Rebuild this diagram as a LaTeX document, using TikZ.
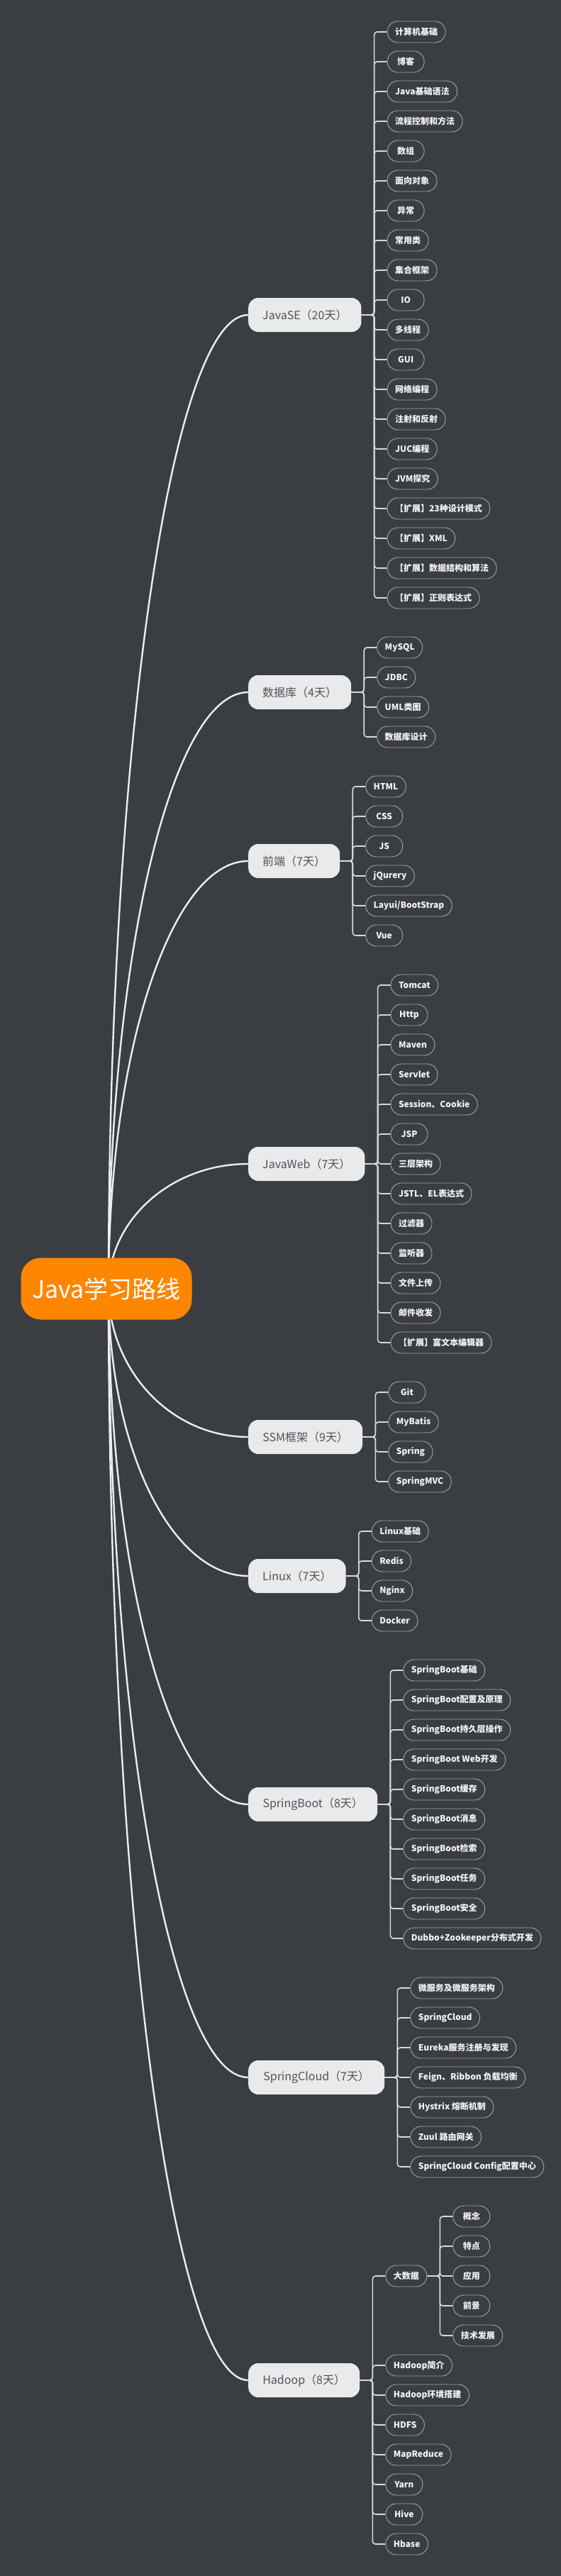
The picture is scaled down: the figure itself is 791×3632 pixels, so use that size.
\documentclass[tikz,border=0pt]{standalone}
\usepackage{fontspec}
\setmainfont{Noto Sans CJK SC}
\usetikzlibrary{calc}

\definecolor{bgcol}{HTML}{3A3D42}
\definecolor{rootfill}{HTML}{FF8600}
\definecolor{topicfill}{HTML}{E9EAEC}
\definecolor{topictext}{HTML}{505256}
\definecolor{leafline}{HTML}{A4A5A8}
\definecolor{leaftext}{HTML}{F4F4F4}
\definecolor{limbcol}{HTML}{EDEDED}
\definecolor{twigcol}{HTML}{D8D9DB}

\pgfdeclarelayer{back}
\pgfdeclarelayer{edges}
\pgfsetlayers{back,edges,main}

\begin{document}
\begin{tikzpicture}[x=1pt,y=-1pt,
  root/.style={fill=rootfill, text=white, rounded corners=28pt, minimum width=241pt,
    minimum height=87pt, font=\fontsize{34}{40}\selectfont},
  topic/.style={fill=topicfill, text=topictext, rounded corners=14pt, minimum height=48pt,
    inner xsep=20pt, anchor=west, font=\fontsize{16}{19}\selectfont},
  leaf/.style={draw=leafline, line width=0.9pt, text=leaftext, rounded corners=15pt,
    minimum height=30pt, minimum width=52pt, inner xsep=11pt, inner ysep=0pt,
    anchor=west, font=\fontsize{12}{14}\selectfont\bfseries},
  limb/.style={draw=limbcol, line width=2.4pt},
  twig/.style={draw=twigcol, line width=1.6pt, rounded corners=4pt}]

\useasboundingbox (0,0) rectangle (791,3632);
\begin{pgfonlayer}{back}
\fill[bgcol] (0,0) rectangle (791,3632);
\end{pgfonlayer}

% root and main topics
\node[root] (root) at (150,1817) {Java学习路线};
\coordinate (hub) at (153,1817);
\node[topic, minimum width=155pt] (se) at (350,444) {JavaSE（20天）};
\node[topic, minimum width=142pt] (db) at (350,976) {数据库（4天）};
\node[topic, minimum width=124pt] (fe) at (350,1214) {前端（7天）};
\node[topic, minimum width=162pt] (web) at (350,1641) {JavaWeb（7天）};
\node[topic, minimum width=161pt] (ssm) at (350,2026) {SSM框架（9天）};
\node[topic, minimum width=133pt] (lx) at (350,2222) {Linux（7天）};
\node[topic, minimum width=182pt] (sb) at (350,2544) {SpringBoot（8天）};
\node[topic, minimum width=192pt] (sc) at (350,2929) {SpringCloud（7天）};
\node[topic, minimum width=157pt] (hd) at (350,3356) {Hadoop（8天）};

% JavaSE
\coordinate (sex) at ([xshift=36pt]se.east);
\node[leaf] (se1) at (sex |- 0,45) {计算机基础};
\node[leaf] (se2) at (sex |- 0,87) {博客};
\node[leaf] (se3) at (sex |- 0,129) {Java基础语法};
\node[leaf] (se4) at (sex |- 0,171) {流程控制和方法};
\node[leaf] (se5) at (sex |- 0,213) {数组};
\node[leaf] (se6) at (sex |- 0,255) {面向对象};
\node[leaf] (se7) at (sex |- 0,297) {异常};
\node[leaf] (se8) at (sex |- 0,339) {常用类};
\node[leaf] (se9) at (sex |- 0,381) {集合框架};
\node[leaf] (se10) at (sex |- 0,423) {IO};
\node[leaf] (se11) at (sex |- 0,465) {多线程};
\node[leaf] (se12) at (sex |- 0,507) {GUI};
\node[leaf] (se13) at (sex |- 0,549) {网络编程};
\node[leaf] (se14) at (sex |- 0,591) {注射和反射};
\node[leaf] (se15) at (sex |- 0,633) {JUC编程};
\node[leaf] (se16) at (sex |- 0,675) {JVM探究};
\node[leaf] (se17) at (sex |- 0,717) {【扩展】23种设计模式};
\node[leaf] (se18) at (sex |- 0,759) {【扩展】XML};
\node[leaf] (se19) at (sex |- 0,801) {【扩展】数据结构和算法};
\node[leaf] (se20) at (sex |- 0,843) {【扩展】正则表达式};

% database
\coordinate (dbx) at ([xshift=36pt]db.east);
\node[leaf] (db1) at (dbx |- 0,913) {MySQL};
\node[leaf] (db2) at (dbx |- 0,955) {JDBC};
\node[leaf] (db3) at (dbx |- 0,997) {UML类图};
\node[leaf] (db4) at (dbx |- 0,1039) {数据库设计};

% front end
\coordinate (fex) at ([xshift=36pt]fe.east);
\node[leaf] (fe1) at (fex |- 0,1109) {HTML};
\node[leaf] (fe2) at (fex |- 0,1151) {CSS};
\node[leaf] (fe3) at (fex |- 0,1193) {JS};
\node[leaf] (fe4) at (fex |- 0,1235) {jQurery};
\node[leaf] (fe5) at (fex |- 0,1277) {Layui/BootStrap};
\node[leaf] (fe6) at (fex |- 0,1319) {Vue};

% JavaWeb
\coordinate (webx) at ([xshift=36pt]web.east);
\node[leaf] (web1) at (webx |- 0,1389) {Tomcat};
\node[leaf] (web2) at (webx |- 0,1431) {Http};
\node[leaf] (web3) at (webx |- 0,1473) {Maven};
\node[leaf] (web4) at (webx |- 0,1515) {Servlet};
\node[leaf] (web5) at (webx |- 0,1557) {Session、Cookie};
\node[leaf] (web6) at (webx |- 0,1599) {JSP};
\node[leaf] (web7) at (webx |- 0,1641) {三层架构};
\node[leaf] (web8) at (webx |- 0,1683) {JSTL、EL表达式};
\node[leaf] (web9) at (webx |- 0,1725) {过滤器};
\node[leaf] (web10) at (webx |- 0,1767) {监听器};
\node[leaf] (web11) at (webx |- 0,1809) {文件上传};
\node[leaf] (web12) at (webx |- 0,1851) {邮件收发};
\node[leaf] (web13) at (webx |- 0,1893) {【扩展】富文本编辑器};

% SSM
\coordinate (ssmx) at ([xshift=36pt]ssm.east);
\node[leaf] (ssm1) at (ssmx |- 0,1963) {Git};
\node[leaf] (ssm2) at (ssmx |- 0,2005) {MyBatis};
\node[leaf] (ssm3) at (ssmx |- 0,2047) {Spring};
\node[leaf] (ssm4) at (ssmx |- 0,2089) {SpringMVC};

% Linux
\coordinate (lxx) at ([xshift=36pt]lx.east);
\node[leaf] (lx1) at (lxx |- 0,2159) {Linux基础};
\node[leaf] (lx2) at (lxx |- 0,2201) {Redis};
\node[leaf] (lx3) at (lxx |- 0,2243) {Nginx};
\node[leaf] (lx4) at (lxx |- 0,2285) {Docker};

% SpringBoot
\coordinate (sbx) at ([xshift=36pt]sb.east);
\node[leaf] (sb1) at (sbx |- 0,2355) {SpringBoot基础};
\node[leaf] (sb2) at (sbx |- 0,2397) {SpringBoot配置及原理};
\node[leaf] (sb3) at (sbx |- 0,2439) {SpringBoot持久层操作};
\node[leaf] (sb4) at (sbx |- 0,2481) {SpringBoot Web开发};
\node[leaf] (sb5) at (sbx |- 0,2523) {SpringBoot缓存};
\node[leaf] (sb6) at (sbx |- 0,2565) {SpringBoot消息};
\node[leaf] (sb7) at (sbx |- 0,2607) {SpringBoot检索};
\node[leaf] (sb8) at (sbx |- 0,2649) {SpringBoot任务};
\node[leaf] (sb9) at (sbx |- 0,2691) {SpringBoot安全};
\node[leaf] (sb10) at (sbx |- 0,2733) {Dubbo+Zookeeper分布式开发};

% SpringCloud
\coordinate (scx) at ([xshift=36pt]sc.east);
\node[leaf] (sc1) at (scx |- 0,2803) {微服务及微服务架构};
\node[leaf] (sc2) at (scx |- 0,2845) {SpringCloud};
\node[leaf] (sc3) at (scx |- 0,2887) {Eureka服务注册与发现};
\node[leaf] (sc4) at (scx |- 0,2929) {Feign、Ribbon 负载均衡};
\node[leaf] (sc5) at (scx |- 0,2971) {Hystrix 熔断机制};
\node[leaf] (sc6) at (scx |- 0,3013) {Zuul 路由网关};
\node[leaf] (sc7) at (scx |- 0,3055) {SpringCloud Config配置中心};

% Hadoop
\coordinate (hdx) at ([xshift=36pt]hd.east);
\node[leaf] (hd1) at (hdx |- 0,3209) {大数据};
\node[leaf] (hd2) at (hdx |- 0,3335) {Hadoop简介};
\node[leaf] (hd3) at (hdx |- 0,3377) {Hadoop环境搭建};
\node[leaf] (hd4) at (hdx |- 0,3419) {HDFS};
\node[leaf] (hd5) at (hdx |- 0,3461) {MapReduce};
\node[leaf] (hd6) at (hdx |- 0,3503) {Yarn};
\node[leaf] (hd7) at (hdx |- 0,3545) {Hive};
\node[leaf] (hd8) at (hdx |- 0,3587) {Hbase};

\coordinate (bigx) at ([xshift=36pt]hd1.east);
\node[leaf] (big1) at (bigx |- 0,3125) {概念};
\node[leaf] (big2) at (bigx |- 0,3167) {特点};
\node[leaf] (big3) at (bigx |- 0,3209) {应用};
\node[leaf] (big4) at (bigx |- 0,3251) {前景};
\node[leaf] (big5) at (bigx |- 0,3293) {技术发展};

% connectors
\begin{pgfonlayer}{edges}
\foreach \b in {se,db,fe,web,ssm,lx,sb,sc,hd}
  \draw[limb] (hub) .. controls ($(hub)!0.552!(hub |- \b.west)$)
    and ($(\b.west)!0.552!(hub |- \b.west)$) .. (\b.west);
\foreach \i in {1,...,20}
  \draw[twig] (se.east) -- ++(18,0) |- (se\i.west);
\foreach \i in {1,...,4}
  \draw[twig] (db.east) -- ++(18,0) |- (db\i.west);
\foreach \i in {1,...,6}
  \draw[twig] (fe.east) -- ++(18,0) |- (fe\i.west);
\foreach \i in {1,...,13}
  \draw[twig] (web.east) -- ++(18,0) |- (web\i.west);
\foreach \i in {1,...,4}
  \draw[twig] (ssm.east) -- ++(18,0) |- (ssm\i.west);
\foreach \i in {1,...,4}
  \draw[twig] (lx.east) -- ++(18,0) |- (lx\i.west);
\foreach \i in {1,...,10}
  \draw[twig] (sb.east) -- ++(18,0) |- (sb\i.west);
\foreach \i in {1,...,7}
  \draw[twig] (sc.east) -- ++(18,0) |- (sc\i.west);
\foreach \i in {1,...,8}
  \draw[twig] (hd.east) -- ++(18,0) |- (hd\i.west);
\foreach \i in {1,...,5}
  \draw[twig] (hd1.east) -- ++(18,0) |- (big\i.west);
\end{pgfonlayer}

\end{tikzpicture}
\end{document}
